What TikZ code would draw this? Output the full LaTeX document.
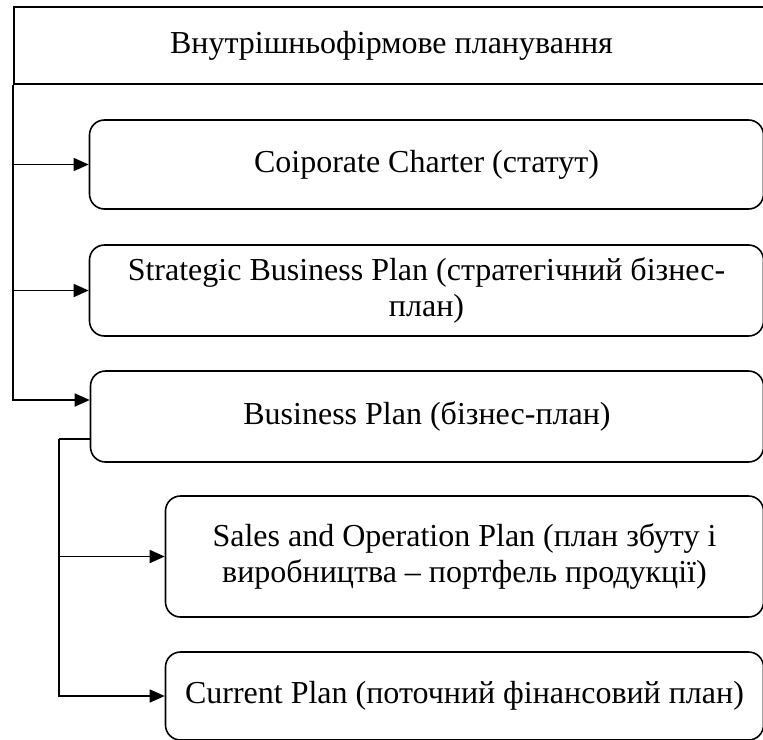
\documentclass[tikz,border=0pt]{standalone}
\usepackage{fontspec}
\setmainfont{Liberation Serif}
\usetikzlibrary{arrows.meta}
\begin{document}
\begin{tikzpicture}[x=1pt,y=-1pt,
  lw/.style={line width=1.6pt},
  title/.style={lw,draw,rectangle,inner sep=0pt},
  planbox/.style={lw,draw,rectangle,rounded corners=15pt,inner sep=0pt,align=center,
    font=\fontsize{32}{36}\selectfont},
  conn/.style={lw},
  arr/.style={lw,-{Triangle[length=15pt,width=13pt]}}]
\useasboundingbox (0,0) rectangle (763,739);
\clip (0,0) rectangle (763,739);
\node[title,minimum width=761pt,minimum height=77pt,font=\fontsize{32}{36}\selectfont] (t) at (394.5,45.5) {\hspace*{-6pt}Внутрішньофірмове планування};
\node[planbox,minimum width=674pt,minimum height=89pt] (b1) at (426.5,164.5) {Coiporate Charter (статут)};
\node[planbox,minimum width=674pt,minimum height=91pt] (b2) at (426.5,290.5) {Strategic Business Plan (стратегічний бізнес-\\план)};
\node[planbox,minimum width=673pt,minimum height=91pt] (b3) at (427,416.5) {Business Plan (бізнес-план)};
\node[planbox,minimum width=598pt,minimum height=121pt] (b4) at (464.5,556.5) {Sales and Operation Plan (план збуту і\\виробництва – портфель продукції)};
\node[planbox,minimum width=598pt,minimum height=88pt] (b5) at (464.5,696) {Current Plan (поточний фінансовий план)};
\coordinate (in3) at ([yshift=16.5pt]b3.west);
\coordinate (out3) at ([yshift=-22.5pt]b3.west);
\draw[arr] (t.south west) |- (in3);
\draw[arr] (t.south west |- b1.west) -- (b1.west);
\draw[arr] (t.south west |- b2.west) -- (b2.west);
\draw[conn] (out3) -- ++(-31,0) coordinate (j);
\draw[arr] (j) |- (b5.west);
\draw[arr] (j |- b4.west) -- (b4.west);
\end{tikzpicture}
\end{document}
